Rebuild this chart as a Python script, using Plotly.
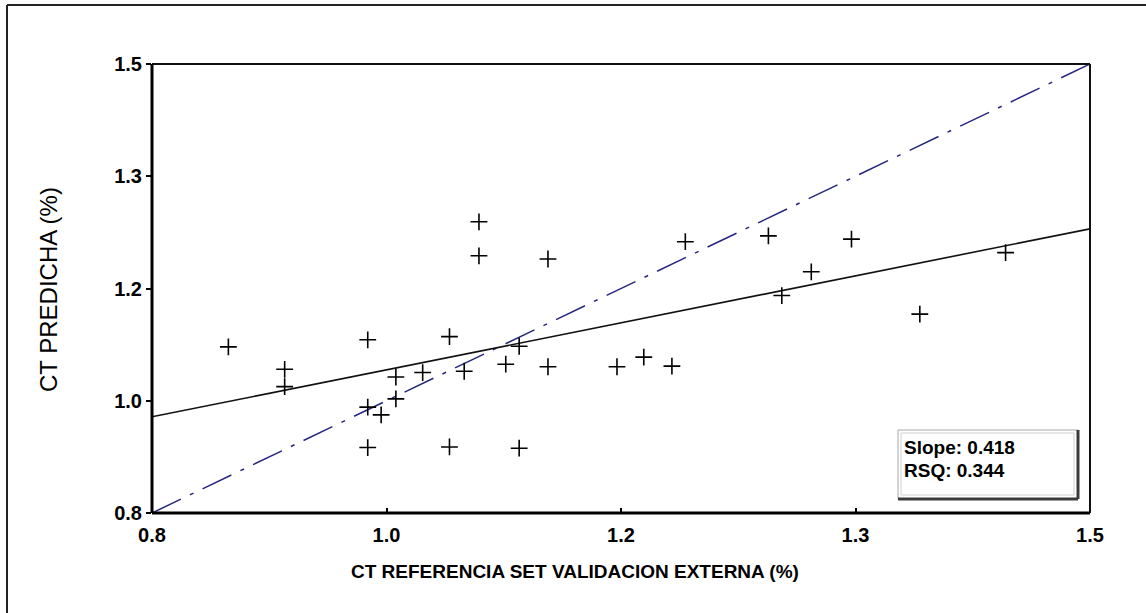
import plotly.graph_objects as go

# ---- data ----
x_ref = [0.857, 0.899, 0.899, 0.961, 0.961, 0.961, 0.971, 0.982, 0.982, 1.002,
         1.022, 1.022, 1.033, 1.044, 1.044, 1.0955, 1.198, 1.064, 1.074, 1.0955,
         1.147, 1.167, 1.188, 1.074, 1.260, 1.322, 1.292, 1.270, 1.373, 1.437]
y_pred = [1.059, 1.024, 0.997, 1.070, 0.965, 0.902, 0.953, 1.012, 0.978, 1.019,
          1.075, 0.903, 1.021, 1.254, 1.201, 1.196, 1.223, 1.032, 1.060, 1.028,
          1.028, 1.043, 1.029, 0.901, 1.232, 1.227, 1.176, 1.139, 1.110, 1.206]

fit_x = [0.8, 1.5]
fit_y = [0.950, 1.243]
ident_x = [0.8, 1.5]
ident_y = [0.8, 1.5]

tick_vals = [0.8, 0.975, 1.15, 1.325, 1.5]
tick_text = ["0.8", "1.0", "1.2", "1.3", "1.5"]

slope = 0.418
rsq = 0.344

x_title = "CT REFERENCIA SET VALIDACION EXTERNA (%)"
y_title = "CT PREDICHA (%)"

# ---- layout geometry (pixels) ----
W, H = 1146, 613
L, R, T, B = 152, 1090, 64, 513


def px(xp):
    return (xp - L) / (R - L)


def py(yp):
    return (B - yp) / (B - T)


SANS = "Liberation Sans, Arial, sans-serif"

fig = go.Figure()
fig.add_trace(go.Scatter(x=ident_x, y=ident_y, mode="lines",
                         line=dict(color="#26267f", width=1.5, dash="32px,10px,4px,10px"),
                         hoverinfo="skip", showlegend=False))
fig.add_trace(go.Scatter(x=fit_x, y=fit_y, mode="lines",
                         line=dict(color="#111111", width=1.6),
                         hoverinfo="skip", showlegend=False))
fig.add_trace(go.Scatter(x=x_ref, y=y_pred, mode="markers",
                         marker=dict(symbol="cross-thin", size=12,
                                     line=dict(color="#000000", width=1.6)),
                         showlegend=False))

shapes = []
# plot frame
shapes.append(dict(type="line", xref="paper", yref="paper", x0=0, x1=1, y0=1, y1=1,
                   line=dict(color="#111", width=2)))
shapes.append(dict(type="line", xref="paper", yref="paper", x0=1, x1=1, y0=0, y1=1,
                   line=dict(color="#111", width=2)))
shapes.append(dict(type="line", xref="paper", yref="paper", x0=0, x1=0, y0=0, y1=1,
                   line=dict(color="#000", width=3)))
shapes.append(dict(type="line", xref="paper", yref="paper", x0=0, x1=1, y0=0, y1=0,
                   line=dict(color="#000", width=3)))
# outer figure frame (top and left visible)
shapes.append(dict(type="line", xref="paper", yref="paper", x0=px(7), x1=px(1160),
                   y0=py(5), y1=py(5), line=dict(color="#222", width=2)))
shapes.append(dict(type="line", xref="paper", yref="paper", x0=px(7), x1=px(7),
                   y0=py(5), y1=py(640), line=dict(color="#222", width=2)))
# stats box
bx0, by0, bx1, by1 = 898, 430, 1078, 499
shapes.append(dict(type="rect", xref="paper", yref="paper", x0=px(bx0), x1=px(bx1),
                   y0=py(by1), y1=py(by0), fillcolor="white",
                   line=dict(color="#a8a8a8", width=1)))
shapes.append(dict(type="rect", xref="paper", yref="paper", x0=px(bx0 + 3), x1=px(bx1 - 4),
                   y0=py(by1 - 4), y1=py(by0 + 3), fillcolor="rgba(0,0,0,0)",
                   line=dict(color="#d0d0d0", width=1)))
shapes.append(dict(type="line", xref="paper", yref="paper", x0=px(bx0), x1=px(bx1),
                   y0=py(by1), y1=py(by1), line=dict(color="#3a3a3a", width=3)))
shapes.append(dict(type="line", xref="paper", yref="paper", x0=px(bx1), x1=px(bx1),
                   y0=py(by0), y1=py(by1), line=dict(color="#3a3a3a", width=3)))

annotations = [
    dict(text=x_title, xref="paper", yref="paper", x=px(575), y=py(571),
         showarrow=False, font=dict(family=SANS, size=19, color="#000", weight="bold"),
         xanchor="center", yanchor="middle"),
    dict(text=y_title, xref="paper", yref="paper", x=px(48), y=py(290),
         showarrow=False, textangle=-90,
         font=dict(family=SANS, size=24, color="#000"),
         xanchor="center", yanchor="middle"),
    dict(text=f"Slope: {slope:.3f}", xref="paper", yref="paper", x=px(902), y=py(447),
         showarrow=False, xanchor="left", yanchor="middle",
         font=dict(family=SANS, size=19, color="#000", weight="bold")),
    dict(text=f"RSQ: {rsq:.3f}", xref="paper", yref="paper", x=px(902), y=py(470),
         showarrow=False, xanchor="left", yanchor="middle",
         font=dict(family=SANS, size=19, color="#000", weight="bold")),
]

fig.update_layout(
    width=W, height=H,
    margin=dict(l=L, r=W - R, t=T, b=H - B),
    paper_bgcolor="white", plot_bgcolor="white",
    shapes=shapes, annotations=annotations,
    showlegend=False,
)
fig.update_xaxes(range=[0.8, 1.5], tickvals=tick_vals, ticktext=tick_text,
                 showgrid=False, zeroline=False, showline=False,
                 ticks="inside", ticklen=5, tickcolor="#000", tickwidth=1.5,
                 ticklabelstandoff=8,
                 tickfont=dict(family=SANS, size=20, color="#000", weight="bold"))
fig.update_yaxes(range=[0.8, 1.5], tickvals=tick_vals, ticktext=tick_text,
                 showgrid=False, zeroline=False, showline=False,
                 ticks="outside", ticklen=5, tickcolor="#000", tickwidth=1.5,
                 tickfont=dict(family=SANS, size=20, color="#000", weight="bold"))

fig.write_html("out.html")
